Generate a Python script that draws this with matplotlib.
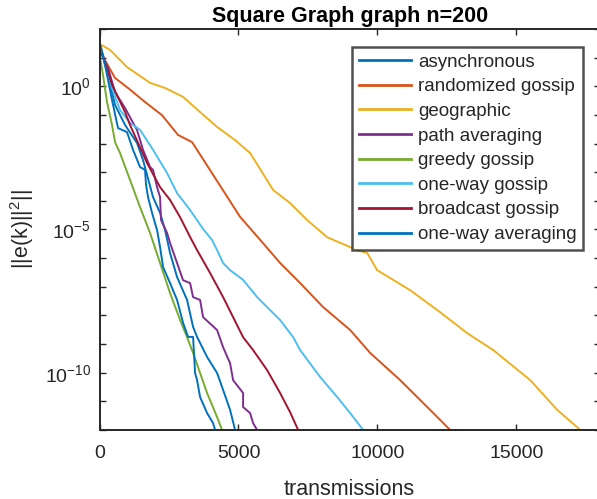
import numpy as np
import matplotlib
matplotlib.use('Agg')
import matplotlib.pyplot as plt
from matplotlib.ticker import FixedLocator, NullFormatter

# transmissions (x) and log10 of ||e(k)||^2 (y) for each protocol
async_x = [0, 306, 558, 918, 1350, 1566, 1926, 2178, 2358, 2538, 2790, 3150, 3366, 3510, 3870, 4230, 4446, 4698, 4878]
async_y = [1.55, 0.39, -0.65, -1.35, -1.98, -2.58, -3.87, -4.42, -5.02, -5.82, -6.66, -7.46, -8.40, -8.75, -9.45, -10.01, -10.60, -11.30, -12.0]

rand_x = [0, 90, 558, 1026, 1638, 2250, 2826, 3330, 4158, 5058, 5778, 6498, 7218, 8046, 9018, 9738, 10818, 11898, 12618]
rand_y = [1.27, 1.09, 0.29, -0.06, -0.55, -1.01, -1.70, -1.95, -3.20, -4.56, -5.36, -6.17, -6.87, -7.71, -8.51, -9.31, -10.26, -11.30, -12.0]

geo_x = [0, 378, 990, 1818, 2358, 3006, 3618, 4230, 4878, 5418, 6246, 6858, 7470, 8190, 9270, 9630, 9990, 11178, 12258, 13230, 14166, 15498, 16470, 17298]
geo_y = [1.48, 1.27, 0.67, 0.12, -0.06, -0.37, -0.90, -1.42, -1.88, -2.33, -3.62, -4.08, -4.67, -5.27, -5.72, -5.82, -6.42, -7.12, -7.89, -8.62, -9.21, -10.26, -11.30, -12.0]

path_x = [0, 90, 306, 558, 918, 1350, 1566, 1818, 1926, 2070, 2178, 2214, 2430, 2538, 2790, 3006, 3258, 3366, 3618, 3726, 4230, 4446, 4698, 4806, 5166, 5166, 5418, 5526, 5670]
path_y = [1.44, 1.09, 0.64, -0.20, -0.76, -1.53, -2.22, -2.82, -2.92, -3.52, -3.87, -4.67, -5.12, -5.47, -6.17, -6.77, -6.87, -7.36, -7.46, -8.06, -8.51, -9.11, -9.67, -10.26, -10.71, -11.20, -11.41, -11.76, -12.0]

greedy_x = [0, 126, 270, 450, 558, 738, 1098, 1458, 1818, 2178, 2538, 2898, 3150, 3366, 3618, 3870, 4230, 4410]
greedy_y = [1.09, 0.39, -0.55, -1.35, -1.95, -2.33, -3.27, -4.22, -5.12, -6.17, -7.22, -8.16, -8.76, -9.31, -10.01, -10.71, -11.55, -12.0]

oneway_x = [0, 198, 378, 738, 1098, 1458, 1926, 2430, 2790, 3258, 3726, 4050, 4230, 4446, 4698, 5166, 5670, 6030, 6498, 6966, 7218, 7938, 8550, 9018, 9486]
oneway_y = [1.51, 0.85, 0.12, -0.83, -1.28, -1.52, -2.22, -3.03, -3.73, -4.32, -4.98, -5.37, -5.72, -6.17, -6.42, -6.76, -7.36, -7.71, -8.16, -8.76, -9.21, -10.15, -10.85, -11.41, -12.0]

bcast_x = [0, 198, 450, 918, 1098, 1710, 2178, 2538, 2898, 3258, 3510, 3978, 4446, 4806, 5166, 5526, 6030, 6498, 6858, 7146]
bcast_y = [1.44, 0.85, 0.05, -0.90, -1.35, -2.68, -3.52, -3.97, -4.57, -5.26, -5.72, -6.52, -7.36, -8.06, -8.76, -9.21, -9.91, -10.71, -11.38, -12.0]

owavg_x = [0, 234, 450, 666, 990, 1206, 1458, 1638, 1674, 1746, 1890, 2070, 2178, 2286, 2538, 2790, 3006, 3186, 3366, 3438, 3510, 3618, 3870, 4086, 4158]
owavg_y = [1.55, 0.57, -0.48, -1.46, -1.60, -2.22, -2.82, -2.92, -3.45, -3.87, -4.42, -5.02, -5.61, -6.31, -6.87, -7.46, -8.26, -8.75, -8.75, -10.01, -10.26, -10.85, -11.41, -11.76, -12.0]

names = ['asynchronous', 'randomized gossip', 'geographic', 'path averaging',
         'greedy gossip', 'one-way gossip', 'broadcast gossip', 'one-way averaging']
series = [(async_x, async_y), (rand_x, rand_y), (geo_x, geo_y), (path_x, path_y),
          (greedy_x, greedy_y), (oneway_x, oneway_y), (bcast_x, bcast_y), (owavg_x, owavg_y)]
colors = ['#0072BD', '#D95319', '#EDB120', '#7E2F8E',
          '#77AC30', '#4DBEEE', '#A2142F', '#0072BD']

plt.rcParams['font.family'] = ['Liberation Sans', 'DejaVu Sans']
plt.rcParams['mathtext.default'] = 'regular'
dark = '#262626'

fig = plt.figure(figsize=(5.97, 4.99), dpi=100)
ax = fig.add_axes([0.1667, 0.1383, 0.838, 0.8036])

for (xs, ys), name, c in zip(series, names, colors):
    ax.plot(xs, 10.0 ** np.array(ys), color=c, linewidth=1.4, label=name)

ax.set_yscale('log')
ax.set_xlim(0, 18000)
ax.set_ylim(1e-12, 1e2)
ax.set_xticks([0, 5000, 10000, 15000])
ax.yaxis.set_major_locator(FixedLocator([1e-10, 1e-5, 1e0]))
ax.yaxis.set_minor_locator(FixedLocator([10.0 ** k for k in range(-12, 3)]))
ax.yaxis.set_minor_formatter(NullFormatter())

ax.tick_params(which='both', direction='in', top=True, right=True,
               length=4, width=1.0, color=dark, labelcolor=dark, labelsize=14)
ax.tick_params(axis='x', pad=11)
ax.tick_params(axis='y', pad=6)
for s in ax.spines.values():
    s.set_linewidth(1.4)
    s.set_color(dark)

ax.set_title('Square Graph graph n=200', fontsize=15.5, fontweight='bold', pad=5)
ax.set_xlabel('transmissions', fontsize=15.5, color=dark, labelpad=12)
ax.set_ylabel(r'$||e(k)||^{2}||$', fontsize=15.5, color=dark, labelpad=6)

leg = ax.legend(loc='upper right', bbox_to_anchor=(583 / 597, 1 - 47 / 499),
                bbox_transform=fig.transFigure, fontsize=13.5, frameon=True,
                fancybox=False, borderaxespad=0, handlelength=2.8,
                handletextpad=0.35, labelspacing=0.4, borderpad=0.35)
leg.get_frame().set_edgecolor(dark)
leg.get_frame().set_linewidth(1.8)
for line in leg.get_lines():
    line.set_linewidth(2.0)
for t in leg.get_texts():
    t.set_color(dark)

fig.savefig('out.png', dpi=100)
